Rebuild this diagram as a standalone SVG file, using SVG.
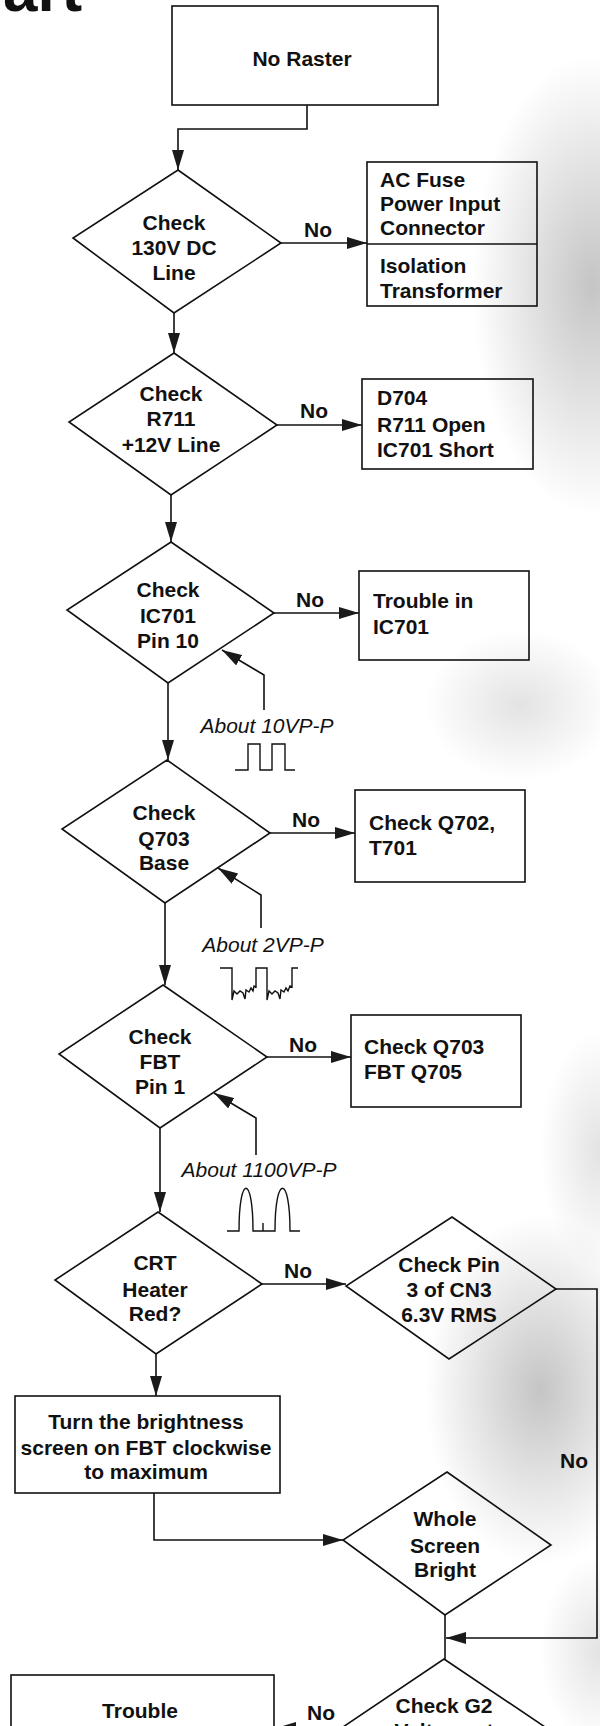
<svg xmlns="http://www.w3.org/2000/svg" width="600" height="1726" viewBox="0 0 600 1726">
<defs>
<marker id="ah" viewBox="0 0 20 12" refX="20" refY="6" markerWidth="20" markerHeight="12" markerUnits="userSpaceOnUse" orient="auto"><path d="M0,0 L20,6 L0,12 Z" fill="#1a1a1a"/></marker>
<radialGradient id="shade"><stop offset="0" stop-color="#8a8a8a" stop-opacity="0.5"/><stop offset="1" stop-color="#8a8a8a" stop-opacity="0"/></radialGradient>
<radialGradient id="shadeL"><stop offset="0" stop-color="#9a9a9a" stop-opacity="0.28"/><stop offset="1" stop-color="#9a9a9a" stop-opacity="0"/></radialGradient>
</defs>
<style>
.bx{fill:none;stroke:#111;stroke-width:1.6}
.ln{fill:none;stroke:#111;stroke-width:1.6}
.ar{marker-end:url(#ah)}
.wv{fill:none;stroke:#111;stroke-width:1.4}
.t{font-family:"Liberation Sans",Arial,Helvetica,sans-serif;font-weight:bold;font-size:21px;fill:#111}
.c{text-anchor:middle}
.i{font-family:"Liberation Sans",Arial,Helvetica,sans-serif;font-style:italic;font-size:21px;fill:#111;text-anchor:middle}
</style>
<rect x="0" y="0" width="600" height="1726" fill="#ffffff"/>
<g id="scan-shading">
<ellipse cx="592" cy="285" rx="120" ry="230" fill="url(#shade)"/>
<ellipse cx="520" cy="705" rx="95" ry="75" fill="url(#shadeL)"/>
<ellipse cx="600" cy="1150" rx="60" ry="120" fill="url(#shadeL)"/>
<ellipse cx="540" cy="1390" rx="115" ry="175" fill="url(#shade)"/>
<ellipse cx="600" cy="1650" rx="60" ry="95" fill="url(#shadeL)"/>
</g>
<text id="title" x="3" y="11" font-family="Liberation Sans, Arial, sans-serif" font-weight="bold" font-size="62" fill="#111">art</text>

<g id="connectors">
<path class="ln ar" d="M307,105 V129 H178 V170"/>
<path class="ln ar" d="M281,243 H367"/>
<path class="ln ar" d="M174,313 V353"/>
<path class="ln ar" d="M277,425 H362"/>
<path class="ln ar" d="M171,495 V542"/>
<path class="ln ar" d="M274,613 H359"/>
<path class="ln ar" d="M168,683 V760"/>
<path class="ln ar" d="M270,833 H355"/>
<path class="ln ar" d="M165,903 V985"/>
<path class="ln ar" d="M267,1057 H351"/>
<path class="ln ar" d="M160,1128 V1212"/>
<path class="ln ar" d="M262,1284 H346"/>
<path class="ln ar" d="M156,1354 V1396"/>
<path class="ln ar" d="M154,1493 V1540 H343"/>
<path class="ln ar" d="M556,1289 H597 V1638 H446"/>
<path class="ln" d="M445,1615 V1659"/>
<path class="ln ar" d="M340,1728 H276"/>
<path class="ln ar" d="M264,710 V675 L222,650"/>
<path class="ln ar" d="M261,928 V895 L218,868"/>
<path class="ln ar" d="M256,1155 V1118 L214,1093"/>
<text class="t c" x="318" y="237">No</text>
<text class="t c" x="314" y="418">No</text>
<text class="t c" x="310" y="607">No</text>
<text class="t c" x="306" y="827">No</text>
<text class="t c" x="303" y="1052">No</text>
<text class="t c" x="298" y="1278">No</text>
<text class="t c" x="574" y="1468">No</text>
<text class="t c" x="321" y="1720">No</text>
</g>

<g id="signal-10vpp">
<text class="i" x="267" y="733">About 10VP-P</text>
<path class="wv" d="M235,770 H248 V744 H260 V770 H272 V744 H285 V770 H295"/>
</g>
<g id="signal-2vpp">
<text class="i" x="263" y="952">About 2VP-P</text>
<path class="wv" d="M220,968 H232 V1000 L234,991 L237,994 L240,991 L243,993 L245,999 L246,990 L249,992 L251,988 L253,991 L254,986 L256,987 V968 H267 V1000 L269,991 L272,994 L275,991 L278,993 L280,999 L281,990 L284,992 L286,988 L288,991 L290,986 L292,987 V968 H298"/>
</g>
<g id="signal-1100vpp">
<text class="i" x="259" y="1177">About 1100VP-P</text>
<path class="wv" d="M227,1231 H239 C239,1174 253,1174 253,1231 H263 V1223 M263,1231 H275 C275,1174 290,1174 290,1231 H300"/>
</g>

<g id="n-no-raster">
<rect class="bx" x="172" y="6" width="266" height="99"/>
<text class="t c" x="302" y="66">No Raster</text>
</g>
<g id="d-130v">
<polygon class="bx" points="178,170 281,243 174,313 73,238"/>
<text class="t c" x="174" y="230">Check</text>
<text class="t c" x="174" y="255">130V DC</text>
<text class="t c" x="174" y="280">Line</text>
</g>
<g id="n-ac-fuse">
<rect class="bx" x="367" y="162" width="170" height="144"/>
<line class="ln" x1="367" y1="244" x2="537" y2="244"/>
<text class="t" x="380" y="187">AC Fuse</text>
<text class="t" x="380" y="211">Power Input</text>
<text class="t" x="380" y="235">Connector</text>
<text class="t" x="380" y="273">Isolation</text>
<text class="t" x="380" y="298">Transformer</text>
</g>
<g id="d-r711">
<polygon class="bx" points="174,353 277,425 171,495 69,422"/>
<text class="t c" x="171" y="401">Check</text>
<text class="t c" x="171" y="426">R711</text>
<text class="t c" x="171" y="452">+12V Line</text>
</g>
<g id="n-d704">
<rect class="bx" x="362" y="379" width="171" height="90"/>
<text class="t" x="377" y="405">D704</text>
<text class="t" x="377" y="432">R711 Open</text>
<text class="t" x="377" y="457">IC701 Short</text>
</g>
<g id="d-ic701">
<polygon class="bx" points="171,542 274,613 168,683 67,610"/>
<text class="t c" x="168" y="597">Check</text>
<text class="t c" x="168" y="623">IC701</text>
<text class="t c" x="168" y="648">Pin 10</text>
</g>
<g id="n-trouble-ic701">
<rect class="bx" x="359" y="571" width="170" height="89"/>
<text class="t" x="373" y="608">Trouble in</text>
<text class="t" x="373" y="634">IC701</text>
</g>
<g id="d-q703">
<polygon class="bx" points="167,760 270,833 165,903 62,829"/>
<text class="t c" x="164" y="820">Check</text>
<text class="t c" x="164" y="846">Q703</text>
<text class="t c" x="164" y="870">Base</text>
</g>
<g id="n-q702">
<rect class="bx" x="355" y="790" width="170" height="92"/>
<text class="t" x="369" y="830">Check Q702,</text>
<text class="t" x="369" y="855">T701</text>
</g>
<g id="d-fbt">
<polygon class="bx" points="163,985 267,1057 160,1128 59,1054"/>
<text class="t c" x="160" y="1044">Check</text>
<text class="t c" x="160" y="1069">FBT</text>
<text class="t c" x="160" y="1094">Pin 1</text>
</g>
<g id="n-q703-fbt">
<rect class="bx" x="351" y="1015" width="170" height="92"/>
<text class="t" x="364" y="1054">Check Q703</text>
<text class="t" x="364" y="1079">FBT Q705</text>
</g>
<g id="d-crt">
<polygon class="bx" points="158,1212 262,1284 156,1354 55,1280"/>
<text class="t c" x="155" y="1270">CRT</text>
<text class="t c" x="155" y="1297">Heater</text>
<text class="t c" x="155" y="1321">Red?</text>
</g>
<g id="d-cn3">
<polygon class="bx" points="452,1217 556,1289 449,1359 346,1286"/>
<text class="t c" x="449" y="1272">Check Pin</text>
<text class="t c" x="449" y="1297">3 of CN3</text>
<text class="t c" x="449" y="1322">6.3V RMS</text>
</g>
<g id="n-turn">
<rect class="bx" x="15" y="1396" width="265" height="97"/>
<text class="t c" x="146" y="1429">Turn the brightness</text>
<text class="t c" x="146" y="1455">screen on FBT clockwise</text>
<text class="t c" x="146" y="1479">to maximum</text>
</g>
<g id="d-whole">
<polygon class="bx" points="447,1472 551,1545 445,1615 343,1540"/>
<text class="t c" x="445" y="1526">Whole</text>
<text class="t c" x="445" y="1553">Screen</text>
<text class="t c" x="445" y="1577">Bright</text>
</g>
<g id="d-g2">
<polygon class="bx" points="444,1659 548,1729 444,1799 340,1729"/>
<text class="t c" x="444" y="1713">Check G2</text>
<text class="t c" x="444" y="1738">Voltage at</text>
</g>
<g id="n-trouble">
<rect class="bx" x="11" y="1675" width="263" height="100"/>
<text class="t c" x="140" y="1718">Trouble</text>
</g>
</svg>
